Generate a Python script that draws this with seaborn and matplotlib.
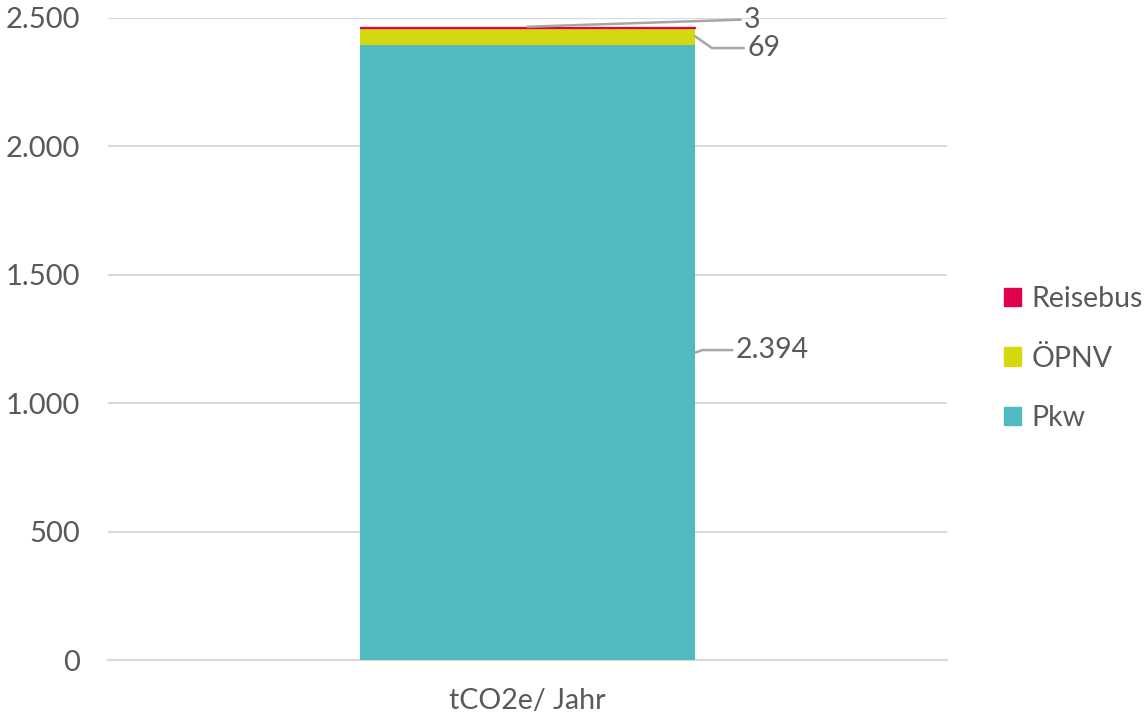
import matplotlib
matplotlib.use("Agg")
import matplotlib.pyplot as plt
import seaborn as sns
import pandas as pd
from matplotlib.patches import Patch

categories = ["tCO2e/ Jahr"]
series_names = ["Pkw", "ÖPNV", "Reisebus"]
pkw = [2394]
oepnv = [69]
reisebus = [3]
value_labels = ["2.394", "69", "3"]
ytick_values = [0, 500, 1000, 1500, 2000, 2500]
ytick_labels = ["0", "500", "1.000", "1.500", "2.000", "2.500"]

colors = {"Pkw": "#4FBBC0", "ÖPNV": "#D4D80E", "Reisebus": "#E0004D"}

sns.set_theme(style="white")
plt.rcParams["font.family"] = ["Lato", "DejaVu Sans"]
text_color = "#595959"
grid_color = "#D9D9D9"
fs = 20.5

df = pd.DataFrame({"cat": categories, "Pkw": pkw, "ÖPNV": oepnv, "Reisebus": reisebus})
df["c2"] = df["Pkw"] + df["ÖPNV"]
df["c3"] = df["c2"] + df["Reisebus"]
tot2 = pkw[0] + oepnv[0]
tot3 = tot2 + reisebus[0]

fig = plt.figure(figsize=(11.45, 7.2), dpi=100)
ax = fig.add_axes([0.0943, 0.0833, 0.827 - 0.0943, 0.975 - 0.0833])

for col, name in [("c3", "Reisebus"), ("c2", "ÖPNV"), ("Pkw", "Pkw")]:
    sns.barplot(data=df, x="cat", y=col, color=colors[name], width=0.4,
                saturation=1, ax=ax, errorbar=None, zorder=3,
                edgecolor="none", linewidth=0)

# make the thin Reisebus segment sit on top of the stack with a visible edge
top_patch = ax.patches[0]
top_patch.set_y(tot2)
top_patch.set_height(reisebus[0])
top_patch.set_edgecolor(colors["Reisebus"])
top_patch.set_linewidth(0.9)
top_patch.set_zorder(5)

ax.set_xlim(-0.5, 0.5)
ax.set_ylim(0, 2500)
ax.set_yticks(ytick_values)
ax.set_yticklabels(ytick_labels)
ax.yaxis.grid(True, color=grid_color, linewidth=1.5, zorder=0)
ax.set_axisbelow(True)
for s in ["left", "right", "top"]:
    ax.spines[s].set_visible(False)
ax.spines["bottom"].set_color(grid_color)
ax.spines["bottom"].set_linewidth(1.5)
ax.set_xlabel("")
ax.set_ylabel("")
ax.tick_params(axis="both", length=0, labelsize=fs, colors=text_color)
ax.tick_params(axis="y", labelsize=21, pad=20)
ax.tick_params(axis="x", pad=20)

line_kw = dict(arrowstyle="-", color="#A6A6A6", lw=1.8, shrinkA=0, shrinkB=0, relpos=(0, 0.5))
ax.annotate(value_labels[0], xy=(0.2, pkw[0] / 2), xytext=(0.248, pkw[0] / 2 + 10),
            textcoords="data", fontsize=fs, color=text_color, va="center", ha="left",
            arrowprops=dict(connectionstyle="angle,angleA=0,angleB=20,rad=0", **line_kw))
ax.annotate(value_labels[1], xy=(0.2, pkw[0] + oepnv[0] / 2), xytext=(0.262, 2383),
            textcoords="data", fontsize=fs, color=text_color, va="center", ha="left",
            arrowprops=dict(connectionstyle="angle,angleA=0,angleB=-35,rad=0", **line_kw))
ax.annotate(value_labels[2], xy=(0.0, tot3), xytext=(0.258, 2494),
            textcoords="data", fontsize=fs, color=text_color, va="center", ha="left",
            arrowprops=dict(**line_kw), zorder=6)

handles = [Patch(color=colors[n]) for n in ["Reisebus", "ÖPNV", "Pkw"]]
leg = fig.legend(handles, ["Reisebus", "ÖPNV", "Pkw"], loc="center left",
                 bbox_to_anchor=(0.877, 0.502), frameon=False, fontsize=fs,
                 handlelength=0.6, handleheight=0.6, handletextpad=0.35,
                 labelspacing=1.18, labelcolor=text_color, borderpad=0, borderaxespad=0)

fig.savefig("out.png", dpi=100)
